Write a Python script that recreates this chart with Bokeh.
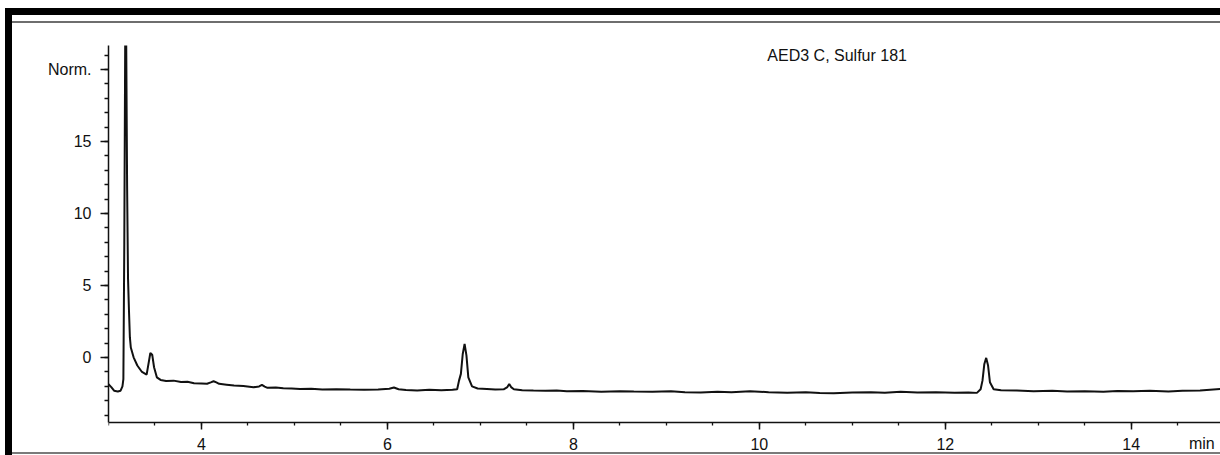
from bokeh.plotting import figure
from bokeh.models import SingleIntervalTicker, Label, Div, Range1d
from bokeh.layouts import column, row
from bokeh.embed import file_html
from bokeh.resources import INLINE

# Retention time (min) and normalised signal
time_min = [3.00, 3.03, 3.06, 3.10, 3.13, 3.15, 3.16, 3.17, 3.18, 3.19, 3.20,
            3.21, 3.22, 3.23, 3.24, 3.27, 3.31, 3.36, 3.41, 3.43, 3.45, 3.47,
            3.49, 3.52, 3.56, 3.62, 3.70, 3.78, 3.85, 3.92, 4.00, 4.06, 4.10,
            4.13, 4.16, 4.19, 4.27, 4.35, 4.45, 4.56, 4.62, 4.65, 4.68, 4.71,
            4.80, 4.88, 4.97, 5.06, 5.18, 5.30, 5.45, 5.60, 5.75, 5.90, 6.02,
            6.07, 6.12, 6.20, 6.32, 6.45, 6.58, 6.70, 6.75, 6.77, 6.79, 6.81,
            6.83, 6.85, 6.87, 6.91, 6.97, 7.07, 7.16, 7.25, 7.29, 7.31, 7.33,
            7.36, 7.45, 7.57, 7.70, 7.82, 7.93, 8.10, 8.30, 8.50, 8.65, 8.85,
            9.05, 9.20, 9.37, 9.55, 9.70, 9.90, 10.10, 10.30, 10.50, 10.65,
            10.80, 11.00, 11.20, 11.35, 11.52, 11.70, 11.90, 12.10, 12.25,
            12.34, 12.38, 12.40, 12.42, 12.44, 12.46, 12.48, 12.52, 12.60,
            12.77, 12.95, 13.15, 13.31, 13.50, 13.70, 13.85, 14.02, 14.20,
            14.40, 14.55, 14.74, 14.96]
signal = [-1.85, -2.05, -2.30, -2.35, -2.30, -2.00, -1.50, 8.00, 22.50, 22.50,
          12.00, 5.50, 3.30, 1.40, 0.70, 0.02, -0.55, -1.00, -1.18, -0.44,
          0.32, 0.20, -0.67, -1.37, -1.55, -1.62, -1.60, -1.70, -1.68, -1.78,
          -1.80, -1.82, -1.72, -1.64, -1.72, -1.82, -1.88, -1.94, -1.98, -2.06,
          -2.00, -1.90, -2.02, -2.10, -2.08, -2.13, -2.15, -2.18, -2.16, -2.22,
          -2.19, -2.22, -2.24, -2.21, -2.16, -2.08, -2.20, -2.25, -2.29, -2.24,
          -2.27, -2.24, -2.20, -1.60, -1.13, 0.25, 0.95, 0.14, -1.37, -2.00,
          -2.15, -2.18, -2.22, -2.20, -2.05, -1.83, -2.05, -2.20, -2.26, -2.29,
          -2.31, -2.28, -2.34, -2.32, -2.37, -2.33, -2.36, -2.38, -2.34, -2.40,
          -2.43, -2.37, -2.40, -2.34, -2.40, -2.44, -2.41, -2.46, -2.48, -2.42,
          -2.40, -2.44, -2.38, -2.42, -2.40, -2.44, -2.42, -2.45, -2.20, -1.60,
          -0.44, -0.02, -0.55, -1.71, -2.20, -2.27, -2.29, -2.33, -2.30, -2.36,
          -2.33, -2.37, -2.32, -2.34, -2.31, -2.35, -2.30, -2.29, -2.18]

x_major_interval = 2
y_major_interval = 5
y_label_overrides = {20: "Norm."}
title_text = "AED3 C, Sulfur 181"
x_unit_text = "min"

Y_AXIS_BOTTOM = -4.51
Y_AXIS_TOP = 21.67

FONT = "Liberation Sans"
INK = "#111111"

p = figure(width=1208, height=429, output_backend="svg", toolbar_location=None,
           x_range=Range1d(3.0, 14.96), y_range=Range1d(-6.59, Y_AXIS_TOP),
           min_border_left=96, min_border_right=0, min_border_top=22,
           min_border_bottom=0)
p.outline_line_color = None
p.xgrid.visible = False
p.ygrid.visible = False
p.background_fill_color = "white"
p.border_fill_color = "white"

p.line(time_min, signal, line_color="#111111", line_width=2)

p.xaxis.ticker = SingleIntervalTicker(interval=x_major_interval, num_minor_ticks=4)
p.xaxis.fixed_location = Y_AXIS_BOTTOM
p.yaxis.ticker = SingleIntervalTicker(interval=y_major_interval, num_minor_ticks=5)
p.yaxis.major_label_overrides = y_label_overrides
p.yaxis.bounds = (Y_AXIS_BOTTOM, Y_AXIS_TOP)

for ax in (p.xaxis[0], p.yaxis[0]):
    ax.axis_line_color = INK
    ax.axis_line_width = 1.5
    ax.major_tick_line_color = INK
    ax.major_tick_line_width = 1.5
    ax.minor_tick_line_color = INK
    ax.minor_tick_line_width = 1.3
    ax.major_tick_in = 0
    ax.minor_tick_in = 0
    ax.major_label_text_font = FONT
    ax.major_label_text_font_size = "16px"
    ax.major_label_text_color = INK
p.xaxis.major_tick_out = 7
p.xaxis.minor_tick_out = 3
p.xaxis.major_label_standoff = 8
p.yaxis.major_tick_out = 8
p.yaxis.minor_tick_out = 4
p.yaxis.major_label_standoff = 9

p.add_layout(Label(x=10.086, y=20.97, text=title_text, text_font=FONT,
                   text_font_size="16px", text_color=INK, text_baseline="middle",
                   text_align="left"))
p.add_layout(Label(x=14.62, y=-5.95, text=x_unit_text, text_font=FONT,
                   text_font_size="16px", text_color=INK, text_baseline="middle",
                   text_align="left"))

p.margin = 0
top_gap = Div(width=1220, height=8, margin=0)
top_bar = row(Div(width=5, height=7, margin=0),
              Div(width=1215, height=7, margin=0, styles={"background-color": "black"}),
              spacing=0)
left_gap = Div(width=5, height=440, margin=0)
left_bar = Div(width=7, height=440, margin=0, styles={"background-color": "black"})
gap = Div(width=1208, height=6, margin=0)
gray_top = Div(width=1208, height=2, margin=0, styles={"background-color": "#6e6e6e"})
gray_bottom = Div(width=1208, height=2, margin=0, styles={"background-color": "#7a7a7a"})
gap_bottom = Div(width=1208, height=1, margin=0)

layout = column(top_gap, top_bar,
                row(left_gap, left_bar,
                    column(gap, gray_top, p, gray_bottom, gap_bottom, spacing=0),
                    spacing=0),
                spacing=0)

open("out.html", "w").write(file_html(layout, INLINE))
